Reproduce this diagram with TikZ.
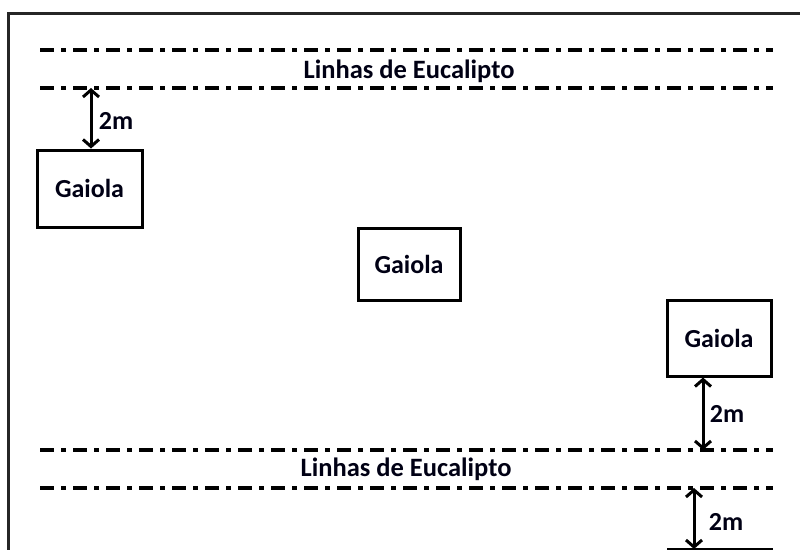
\documentclass[tikz,border=0pt]{standalone}
\usepackage{fontspec}
\setmainfont{Carlito}
\usetikzlibrary{arrows.meta}
\tikzset{
  row/.style={line width=4pt, dash pattern=on 14pt off 7pt on 5pt off 7pt},
  cage/.style={draw, line width=3pt, inner sep=0pt,
               font=\fontsize{26}{30}\selectfont\bfseries, text=black!92!blue},
  rowlabel/.style={font=\fontsize{26.5}{30}\selectfont\bfseries, text=black!92!blue},
  gap/.style={line width=3pt, {Straight Barb[length=7pt,width=16pt,line width=3pt]}-{Straight Barb[length=7pt,width=16pt,line width=3pt]}},
  gaplabel/.style={font=\fontsize{26}{30}\selectfont\bfseries, anchor=west, text=black!92!blue}
}
\begin{document}
\begin{tikzpicture}[x=1pt,y=-1pt]
  \useasboundingbox (0,0) rectangle (800,549);
  % frame
  \draw[line width=3pt, black!85] (8,560) -- (8,13) -- (810,13);
  % eucalyptus rows
  \coordinate (r1a) at (40,50);  \coordinate (r1b) at (773,50);
  \coordinate (r2a) at (40,88);  \coordinate (r2b) at (773,88);
  \coordinate (r3a) at (40,450); \coordinate (r3b) at (773,450);
  \coordinate (r4a) at (40,488); \coordinate (r4b) at (773,488);
  \draw[row] (r1a) -- (r1b);
  \draw[row] (r2a) -- (r2b);
  \draw[row] (r3a) -- (r3b);
  \draw[row] (r4a) -- (r4b);
  \node[rowlabel] (l1) at (409,71) {Linhas de Eucalipto};
  \node[rowlabel] (l2) at (406,469) {Linhas de Eucalipto};
  % cages
  \node[cage, minimum width=105pt, minimum height=77pt] (g1) at (89.5,188.5) {Gaiola};
  \node[cage, minimum width=102pt, minimum height=72pt] (g2) at (409,264) {Gaiola};
  \node[cage, minimum width=104pt, minimum height=76pt] (g3) at (719,338) {Gaiola};
  % distances
  \coordinate (a1) at (91,88);
  \coordinate (a2) at (703,450);
  \coordinate (a3) at (694,488);
  \coordinate (a3b) at (694,549);
  \draw[gap] (a1) -- (a1 |- g1.north) node[gaplabel, midway, xshift=3pt, yshift=-3pt] {2m};
  \draw[gap] (a2 |- g3.south) -- (a2) node[gaplabel, midway, xshift=2pt] {2m};
  \draw[gap] (a3) -- (a3b) node[gaplabel, midway, xshift=10pt, yshift=-3pt] {2m};
  \coordinate (b1) at (667,549); \coordinate (b2) at (773,549);
  \draw[line width=3pt] (b1) -- (b2);
\end{tikzpicture}
\end{document}
